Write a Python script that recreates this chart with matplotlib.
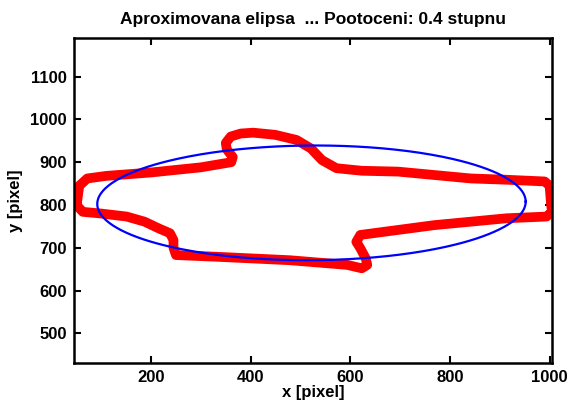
import matplotlib
matplotlib.use('Agg')
import matplotlib.pyplot as plt
import numpy as np

# traced outline of the object (red)
obj_x = [52, 56, 72, 110, 200, 300, 361, 364, 352, 350, 360, 380, 405, 449, 492, 521,
         543, 572, 623, 696, 769, 842, 914, 990, 1000, 1003, 1005, 994, 914, 769,
         620, 612, 620, 631, 634, 623, 594, 478, 332, 250, 245, 245, 238, 216, 187,
         151, 100, 63, 50, 52]
obj_y = [812, 845, 862, 868, 876, 888, 900, 912, 930, 945, 960, 967, 969, 964, 952, 932,
         905, 886, 880, 878, 870, 862, 859, 855, 845, 800, 785, 773, 769, 753,
         730, 714, 699, 675, 660, 652, 660, 671, 679, 683, 700, 718, 734, 745, 761,
         773, 780, 784, 800, 812]

# fitted ellipse parameters
ell_center = (522, 805)
ell_axes = (430, 134)
ell_angle_deg = 0.4

t = np.linspace(0, 2 * np.pi, 400)
phi = np.deg2rad(ell_angle_deg)
ex = ell_center[0] + ell_axes[0] * np.cos(t) * np.cos(phi) - ell_axes[1] * np.sin(t) * np.sin(phi)
ey = ell_center[1] + ell_axes[0] * np.cos(t) * np.sin(phi) + ell_axes[1] * np.sin(t) * np.cos(phi)

plt.rcParams['font.family'] = ['Liberation Sans', 'DejaVu Sans']
plt.rcParams['font.weight'] = 'bold'

fig = plt.figure(figsize=(5.68, 4.01), dpi=100)
ax = fig.add_axes([0.130, 0.095, 0.842, 0.81])
ax.plot(obj_x, obj_y, color='red', lw=7, solid_joinstyle='round', solid_capstyle='round')
ax.plot(ex, ey, color='blue', lw=1.6)

ax.set_xlim(45, 1005)
ax.set_ylim(431, 1190)
ax.set_xticks([200, 400, 600, 800, 1000])
ax.set_yticks([500, 600, 700, 800, 900, 1000, 1100])
ax.tick_params(direction='in', length=5, width=1.5, labelsize=12, top=True, right=True, pad=5)
for lab in ax.get_xticklabels() + ax.get_yticklabels():
    lab.set_fontweight('bold')
for s in ax.spines.values():
    s.set_linewidth(1.8)

ax.set_title('Aproximovana elipsa  ... Pootoceni: 0.4 stupnu', fontsize=12.5, fontweight='bold', pad=10)
ax.set_xlabel('x [pixel]', fontsize=12, fontweight='bold', labelpad=0)
ax.set_ylabel('y [pixel]', fontsize=12, fontweight='bold', labelpad=5)

fig.savefig('out.png', dpi=100)
